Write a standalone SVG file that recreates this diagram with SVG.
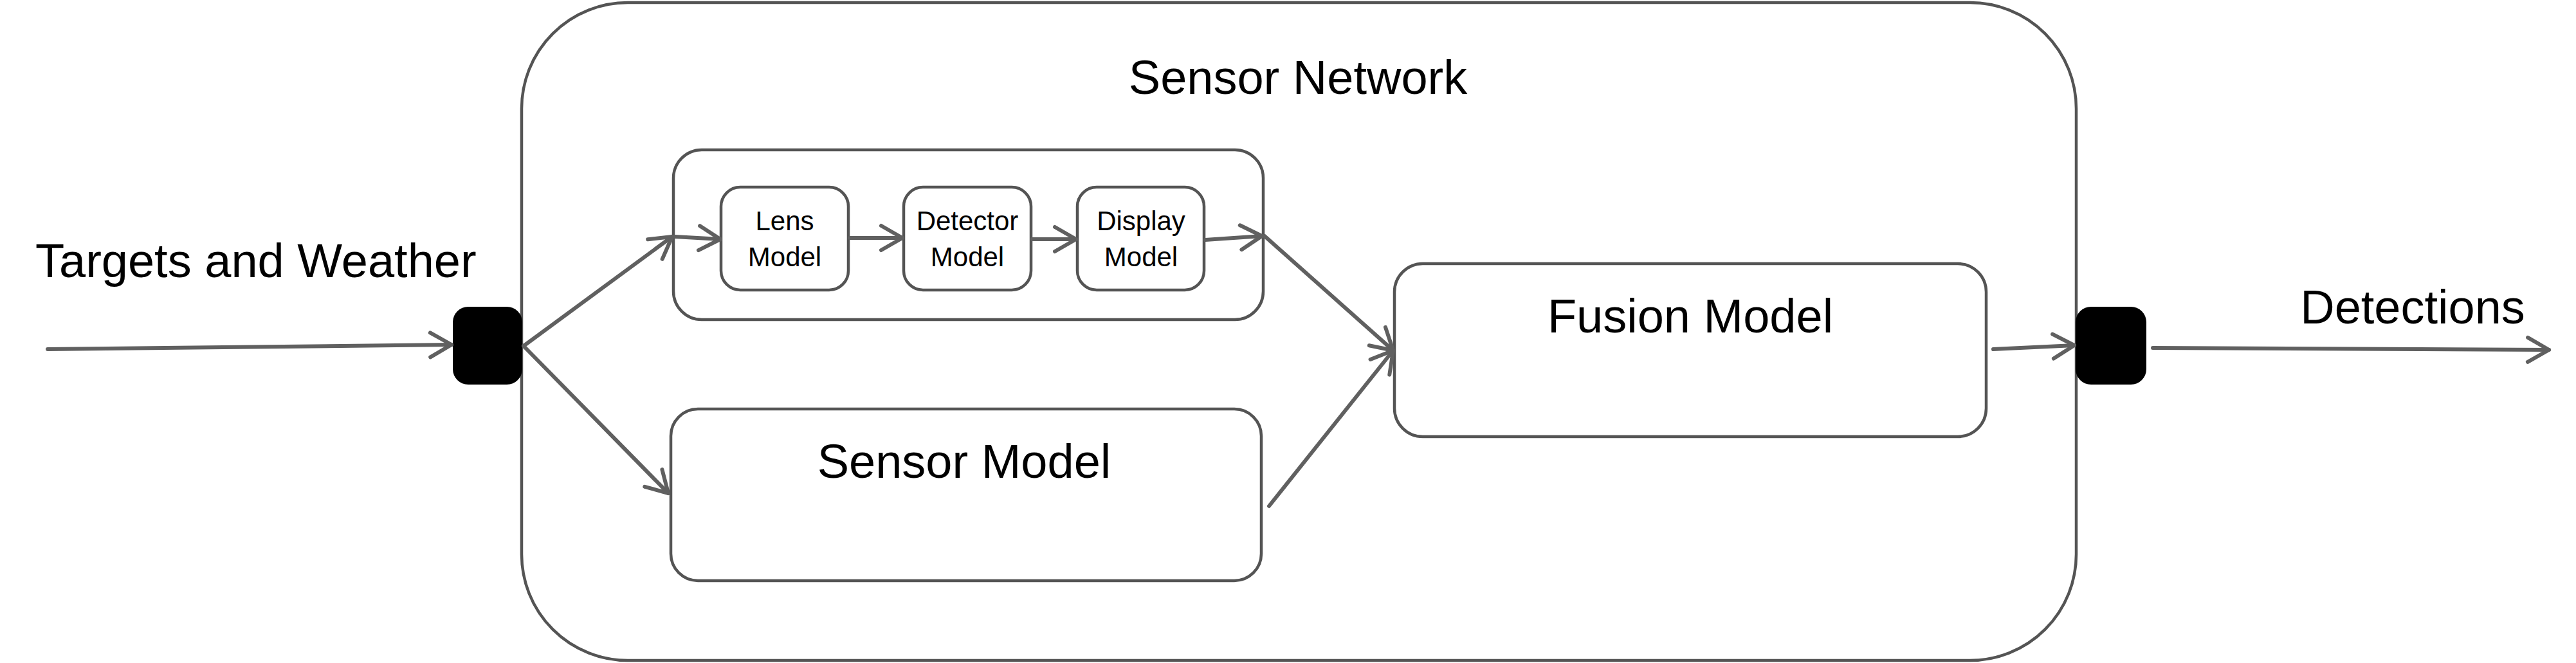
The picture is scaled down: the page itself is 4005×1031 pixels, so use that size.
<svg xmlns="http://www.w3.org/2000/svg" width="4005" height="1031" viewBox="0 0 4005 1031">
<style>
.box{fill:#fff;stroke:#545454;stroke-width:4.5}
.port{fill:#000;stroke:none}
.lbl{font-family:"Liberation Sans",Arial,sans-serif;fill:#000}
.big{font-size:74px}
.small{font-size:42px}
.mid{text-anchor:middle}
.conn{fill:none;stroke:#606060;stroke-width:6;stroke-linecap:round;marker-end:url(#arr)}
</style>
<defs>
<marker id="arr" markerUnits="userSpaceOnUse" viewBox="-40 -25 46 50" markerWidth="46" markerHeight="50" refX="0" refY="0" orient="auto" overflow="visible">
<path d="M -33,-19 L 0,0 L -33,19" fill="none" stroke="#606060" stroke-width="6" stroke-linecap="round" stroke-linejoin="round"/>
</marker>
</defs>
<rect width="4005" height="1031" fill="#fff"/>
<g id="sensor-network">
<rect class="box" x="811" y="4" width="2417" height="1023" rx="165" ry="165"/>
<text class="lbl big mid" x="2018" y="146">Sensor Network</text>
</g>
<g id="optical-chain">
<rect class="box" x="1047" y="233" width="917" height="264" rx="44" ry="44"/>
</g>
<g id="lens-model">
<rect class="box" x="1121" y="291" width="198" height="160" rx="30" ry="30"/>
<text class="lbl small mid" x="1220" y="358">Lens</text>
<text class="lbl small mid" x="1220" y="414">Model</text>
</g>
<g id="detector-model">
<rect class="box" x="1405" y="291" width="198" height="160" rx="30" ry="30"/>
<text class="lbl small mid" x="1504" y="358">Detector</text>
<text class="lbl small mid" x="1504" y="414">Model</text>
</g>
<g id="display-model">
<rect class="box" x="1675" y="291" width="197" height="160" rx="30" ry="30"/>
<text class="lbl small mid" x="1774" y="358">Display</text>
<text class="lbl small mid" x="1774" y="414">Model</text>
</g>
<g id="sensor-model">
<rect class="box" x="1043" y="636" width="918" height="267" rx="42" ry="42"/>
<text class="lbl big mid" x="1499" y="743">Sensor Model</text>
</g>
<g id="fusion-model">
<rect class="box" x="2168" y="410" width="920" height="269" rx="44" ry="44"/>
<text class="lbl big mid" x="2628" y="517">Fusion Model</text>
</g>
<g id="input-port">
<rect class="port" x="704" y="477" width="108" height="121" rx="24" ry="24"/>
</g>
<g id="output-port">
<rect class="port" x="3227" y="477" width="110" height="121" rx="24" ry="24"/>
</g>
<g id="input-label">
<text class="lbl big" x="55" y="431">Targets and Weather</text>
</g>
<g id="output-label">
<text class="lbl big mid" x="3751" y="503">Detections</text>
</g>
<g id="connectors">
<line class="conn" x1="74" y1="543" x2="702" y2="536"/>
<line class="conn" x1="814" y1="538" x2="1045" y2="368"/>
<line class="conn" x1="814" y1="538" x2="1039" y2="767"/>
<line class="conn" x1="1049" y1="368" x2="1120" y2="372"/>
<line class="conn" x1="1321" y1="370" x2="1403" y2="370"/>
<line class="conn" x1="1605" y1="372" x2="1673" y2="372"/>
<line class="conn" x1="1874" y1="373" x2="1962" y2="367"/>
<line class="conn" x1="1966" y1="367" x2="2166" y2="545"/>
<line class="conn" x1="1973" y1="787" x2="2166" y2="545"/>
<line class="conn" x1="3099" y1="543" x2="3225" y2="537"/>
<line class="conn" x1="3347" y1="541" x2="3963" y2="544"/>
</g>
</svg>
